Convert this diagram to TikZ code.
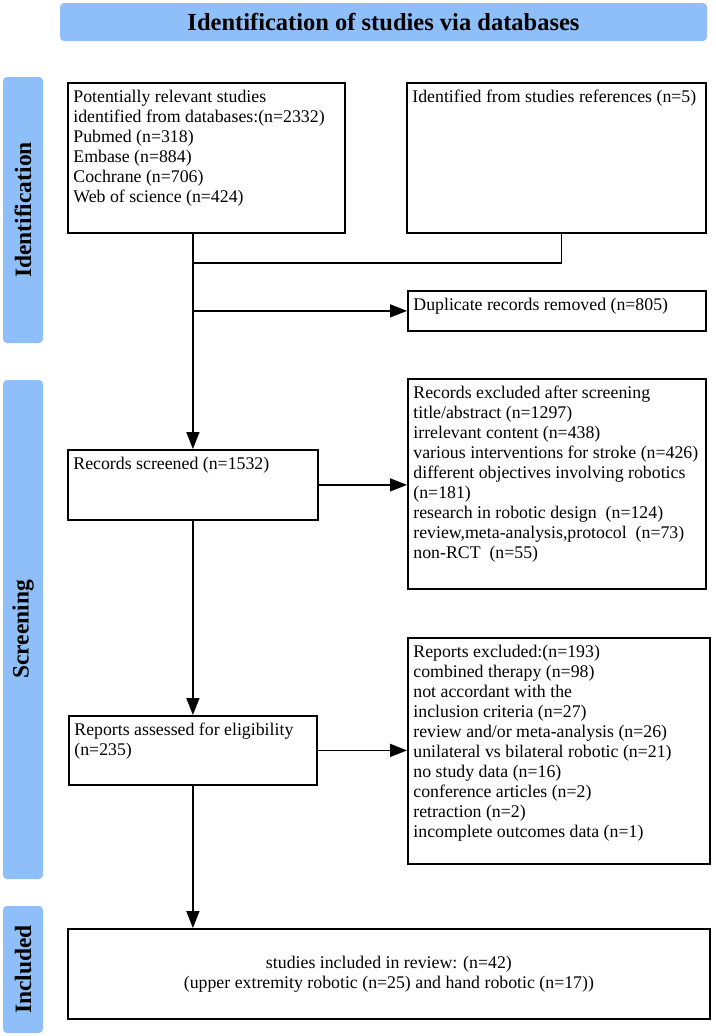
\documentclass[tikz,border=0pt]{standalone}
\usepackage{fontspec}
\setmainfont{Liberation Serif}
\usetikzlibrary{arrows.meta}

\definecolor{bandblue}{RGB}{143,191,248}

% Text block pinned to the top left of a box
\newcommand{\toptext}[3]{\parbox[c][#2][t]{#1}{\begin{tabular}[t]{@{}l@{}}#3\end{tabular}}}

\tikzset{
  flowbox/.style={draw, line width=1.8pt, inner xsep=5.5pt, inner ysep=6pt, anchor=north west},
  band/.style={fill=bandblue, rounded corners=4pt, inner sep=0pt, font=\bfseries\fontsize{23.5}{26}\selectfont},
  flow/.style={line width=1.6pt, -{Triangle[length=17pt,width=13pt]}},
  joinline/.style={line width=1.6pt}
}

\begin{document}
\begin{tikzpicture}[x=1pt, y=-1pt, font=\fontsize{17.8}{20}\selectfont]
  % Page size of the figure
  \useasboundingbox (0,0) rectangle (715,1036);

  % Title banner
  \node[band, minimum width=647pt, minimum height=38pt, font=\bfseries\fontsize{24.5}{28}\selectfont] (titlebar) at (383.5,22) {Identification of studies via databases};

  % Stage bars on the left
  \node[band, rotate=90, minimum width=266pt, minimum height=40pt] (idbar) at (23,210) {Identification};
  \node[band, rotate=90, minimum width=499pt, minimum height=40pt] (scrbar) at (23,629.5) {Screening};
  \node[band, rotate=90, minimum width=127pt, minimum height=40pt] (incbar) at (23,969.5) {Included};

  % Identification boxes
  \node[flowbox] (dbbox) at (67,82) {\toptext{266pt}{138pt}{Potentially relevant studies\\identified from databases:(n=2332)\\Pubmed (n=318)\\Embase (n=884)\\Cochrane (n=706)\\Web of science (n=424)}};
  \node[flowbox] (refbox) at (406,82) {\toptext{288pt}{138pt}{Identified from studies references (n=5)}};
  \node[flowbox] (dupbox) at (407,290) {\toptext{287pt}{28pt}{Duplicate records removed (n=805)}};

  % Screening boxes
  \node[flowbox] (screenbox) at (67,449) {\toptext{239pt}{58pt}{Records screened (n=1532)}};
  \node[flowbox] (exclbox) at (407,378) {\toptext{287pt}{198pt}{Records excluded after screening\\title/abstract (n=1297)\\irrelevant content (n=438)\\various interventions for stroke (n=426)\\different objectives involving robotics\\(n=181)\\research in robotic design\ \ (n=124)\\review,meta-analysis,protocol\ \ (n=73)\\non-RCT\ \ (n=55)}};
  \node[flowbox] (assessbox) at (68,715) {\toptext{237pt}{57pt}{Reports assessed for eligibility\\(n=235)}};
  \node[flowbox] (reportbox) at (407,637) {\toptext{291pt}{214pt}{Reports excluded:(n=193)\\combined therapy (n=98)\\not accordant with the\\inclusion criteria (n=27)\\review and/or meta-analysis (n=26)\\unilateral vs bilateral robotic (n=21)\\no study data (n=16)\\conference articles (n=2)\\retraction (n=2)\\incomplete outcomes data (n=1)}};

  % Included box
  \node[flowbox, inner sep=0pt, minimum width=642pt, minimum height=90pt, align=center] (inclbox) at (67,928) {studies included in review: (n=42)\\(upper extremity robotic (n=25) and hand robotic (n=17))};

  % Main flow down the left
  \draw[flow] (dbbox.south -| screenbox.north) -- (screenbox.north);
  \draw[flow] (screenbox.south) -- (screenbox.south |- assessbox.north);
  \draw[flow] (assessbox.south) -- (assessbox.south |- inclbox.north);

  % References join the main flow
  \coordinate (mergept) at (192,263);
  \draw[joinline] ([xshift=5pt]refbox.south) |- (mergept);

  % Exclusions to the right
  \coordinate (dupsplit) at (screenbox.north |- dupbox.west);
  \draw[flow] (dupsplit) -- (dupbox.west);
  \draw[flow] (screenbox.east) -- (screenbox.east -| exclbox.west);
  \draw[flow] (assessbox.east) -- (assessbox.east -| reportbox.west);
\end{tikzpicture}
\end{document}
